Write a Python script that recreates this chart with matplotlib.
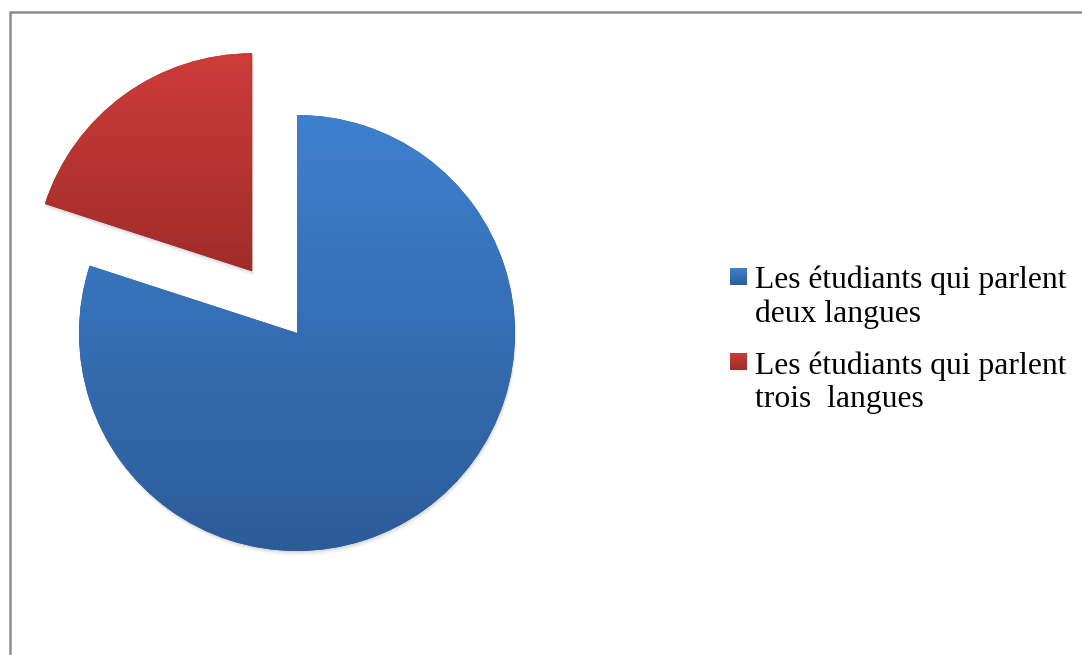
import matplotlib.pyplot as plt
import numpy as np
from matplotlib.colors import LinearSegmentedColormap
from matplotlib.patches import Rectangle, Wedge

labels = ['Les étudiants qui parlent\ndeux langues',
          'Les étudiants qui parlent\ntrois  langues']
values = [80, 20]
explode = [0, 0.35]
top_colors = ['#3e80cf', '#cd3c39']
bottom_colors = ['#2c5c98', '#a02c2a']

W, H = 1082, 655
fig = plt.figure(figsize=(W / 100, H / 100), dpi=100)

# pie centre and radius in pixels
R = 218
cx, cy = 297, H - 333
k = 1.45
side = 2 * R * k
ax = fig.add_axes([(cx - side / 2) / W, (cy - side / 2) / H, side / W, side / H])

wedges, _ = ax.pie(values, explode=explode, startangle=90, counterclock=False,
                   colors=bottom_colors, radius=1,
                   wedgeprops=dict(linewidth=0))

# soft shadow under each slice
px = 1.0 / R
for w in wedges:
    for i, a in zip(range(1, 6), [0.07, 0.06, 0.05, 0.04, 0.03]):
        s = Wedge((w.center[0] + 0.3 * i * px, w.center[1] - i * px), w.r,
                  w.theta1, w.theta2, facecolor='#606060', edgecolor='none',
                  alpha=a, zorder=0)
        ax.add_patch(s)

# vertical gradient fill clipped to each slice
grad = np.linspace(0, 1, 256).reshape(-1, 1)
cmaps = [LinearSegmentedColormap.from_list('g%d' % i, [c0, c1])
         for i, (c0, c1) in enumerate(zip(top_colors, bottom_colors))]
for w, cmap in zip(wedges, cmaps):
    bb = w.get_path().get_extents()
    im = ax.imshow(grad, cmap=cmap, extent=[bb.x0, bb.x1, bb.y0, bb.y1],
                   origin='upper', aspect='auto', zorder=2,
                   interpolation='bilinear')
    im.set_clip_path(w)

ax.set_xlim(-k, k)
ax.set_ylim(-k, k)
ax.set_aspect('equal')
ax.axis('off')

# legend: gradient square beside the first line of a two-line label
leg_x, box, step = 730, 17, 34
first_baselines = [288, 373]
for lab, cmap, yb in zip(labels, cmaps, first_baselines):
    top = yb - 20
    lax = fig.add_axes([leg_x / W, 1 - (top + box) / H, box / W, box / H])
    lax.imshow(grad, cmap=cmap, aspect='auto', interpolation='bilinear')
    lax.axis('off')
    # va='baseline' pins the last line, so place it one line below the first
    fig.text(755 / W, 1 - (yb + step) / H, lab, ha='left', va='baseline',
             family='Liberation Serif', size=22.8, linespacing=1.18,
             color='black')

# outer frame
fig.patches.append(Rectangle((10, -20), W + 20, H - 12 + 20, fill=False,
                             edgecolor='#8c8c8c', linewidth=1.8,
                             transform=None, figure=fig))

fig.savefig('out.png', dpi=100)
